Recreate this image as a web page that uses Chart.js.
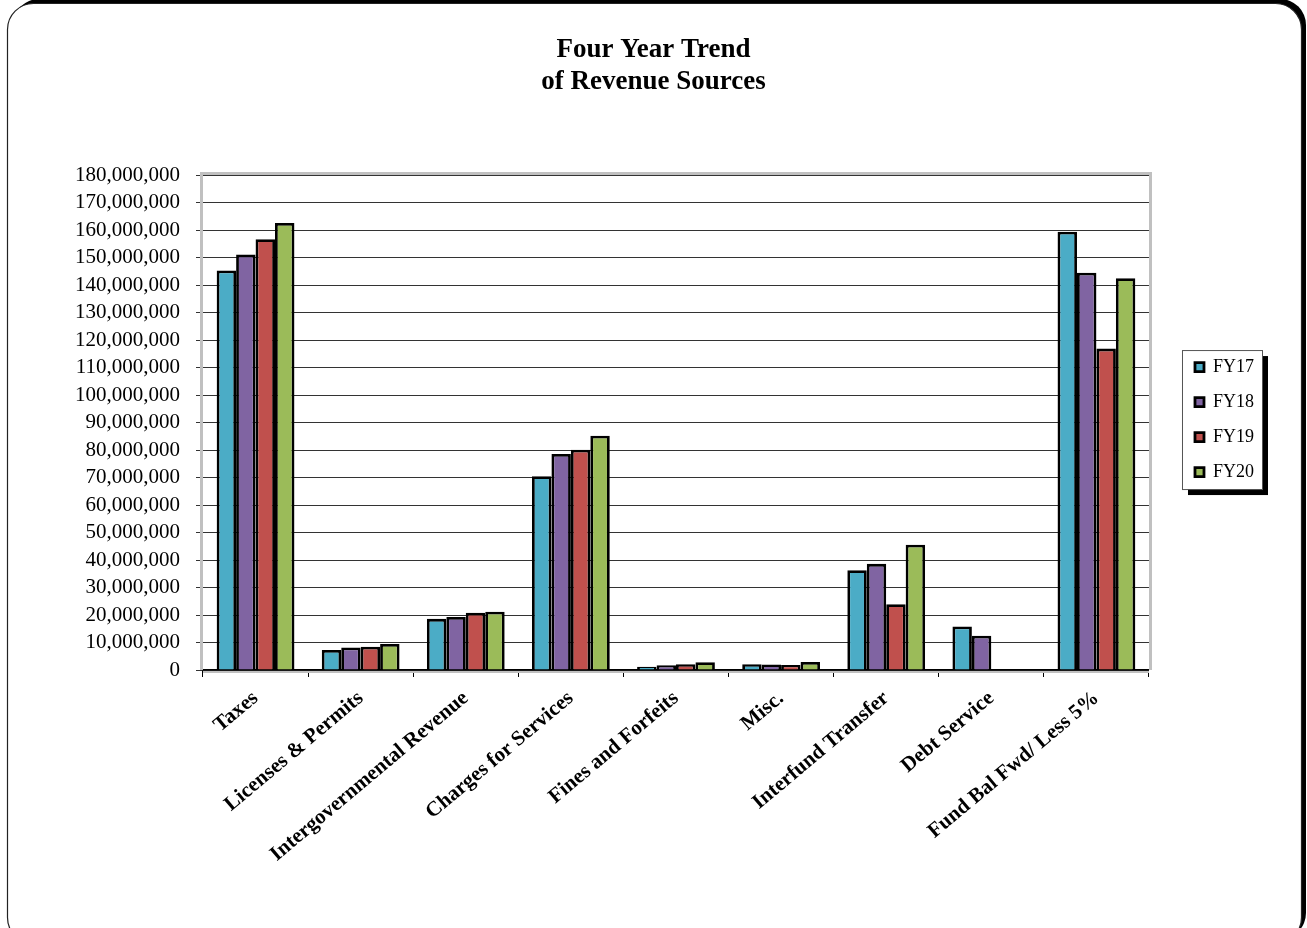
<!DOCTYPE html>
<html>
<head>
<meta charset="utf-8">
<script src="https://cdn.jsdelivr.net/npm/chart.js@4.4.1/dist/chart.umd.min.js"></script>
<style>
  body { margin: 0; background: #fff; }
  #myChart { display: block; }
</style>
</head>
<body>
<canvas id="myChart" width="1307" height="928"></canvas>
<script>
// categories and values
const categories = [
  'Taxes',
  'Licenses & Permits',
  'Intergovernmental Revenue',
  'Charges for Services',
  'Fines and Forfeits',
  'Misc.',
  'Interfund Transfer',
  'Debt Service',
  'Fund Bal Fwd/ Less 5%'
];
const seriesNames = ['FY17', 'FY18', 'FY19', 'FY20'];
const fy17 = [145300000, 7300000, 18600000, 70500000, 1200000, 2100000, 36300000, 15800000, 159400000];
const fy18 = [151100000, 8200000, 19300000, 78600000, 1700000, 2000000, 38600000, 12500000, 144500000];
const fy19 = [156700000, 8500000, 20800000, 80100000, 2100000, 1800000, 23900000, null, 116900000];
const fy20 = [162600000, 9500000, 21200000, 85200000, 2800000, 2900000, 45600000, null, 142500000];
const yMax = 180000000;
const yStep = 10000000;

const colors = ['#4BACC6', '#8064A2', '#C0504D', '#9BBB59'];
const serif = '"Liberation Serif", "Times New Roman", serif';

// rounded outer frame with the black shadow, plus legend box
const framePlugin = {
  id: 'frame',
  afterLayout(chart) {
    const lg = chart.legend;
    const dx = chart.chartArea.right + 29 - lg.left;
    lg.left += dx;
    lg.right += dx;
    lg.top -= 3;
    lg.bottom -= 3;
  },
  beforeDraw(chart) {
    const ctx = chart.ctx;
    ctx.save();
    ctx.fillStyle = '#fff';
    ctx.fillRect(0, 0, chart.width, chart.height);
    ctx.fillStyle = '#000';
    ctx.beginPath();
    ctx.roundRect(13, -1, 1293, 940, 26);
    ctx.fill();
    ctx.fillStyle = '#fff';
    ctx.strokeStyle = '#222';
    ctx.lineWidth = 1.2;
    ctx.beginPath();
    ctx.roundRect(7.5, 3.5, 1294, 940, 26);
    ctx.fill();
    ctx.stroke();

    // legend box
    const hb = chart.legend.legendHitBoxes;
    if (hb && hb.length) {
      const x0 = Math.min(...hb.map(h => h.left)) - 13;
      const y0 = Math.min(...hb.map(h => h.top)) - 8;
      const x1 = Math.max(...hb.map(h => h.left + h.width)) + 8;
      const y1 = Math.max(...hb.map(h => h.top + h.height)) + 8;
      ctx.fillStyle = '#000';
      ctx.fillRect(x0 + 6, y0 + 6, x1 - x0, y1 - y0);
      ctx.fillStyle = '#fff';
      ctx.fillRect(x0, y0, x1 - x0, y1 - y0);
      ctx.strokeStyle = '#555';
      ctx.lineWidth = 1;
      ctx.strokeRect(x0 + 0.5, y0 + 0.5, x1 - x0, y1 - y0);
    }
    ctx.restore();
  },
  beforeDatasetsDraw(chart) {
    // grey plot border
    const a = chart.chartArea;
    const ctx = chart.ctx;
    ctx.save();
    ctx.strokeStyle = '#c0c0c0';
    ctx.lineWidth = 3;
    ctx.beginPath();
    ctx.moveTo(a.left - 1.5, a.bottom);
    ctx.lineTo(a.left - 1.5, a.top - 1.5);
    ctx.lineTo(a.right + 1.5, a.top - 1.5);
    ctx.lineTo(a.right + 1.5, a.bottom);
    ctx.stroke();
    ctx.lineWidth = 2;
    ctx.beginPath();
    ctx.moveTo(a.left, a.bottom + 2);
    ctx.lineTo(a.right, a.bottom + 2);
    ctx.stroke();
    ctx.restore();
  }
};

const datasets = [fy17, fy18, fy19, fy20].map((vals, i) => ({
  label: seriesNames[i],
  data: vals,
  backgroundColor: colors[i],
  borderColor: '#000',
  borderWidth: 2.8,
  borderSkipped: 'start',
  barPercentage: 1.0,
  categoryPercentage: 0.74
}));

const config = {
  type: 'bar',
  data: { labels: categories, datasets },
  options: {
    responsive: false,
    animation: false,
    layout: { padding: 0 },
    plugins: {
      title: {
        display: true,
        text: ['Four Year Trend', 'of Revenue Sources'],
        color: '#000',
        font: { family: serif, size: 27, weight: 'bold', lineHeight: 1.15 },
        padding: { top: 35, bottom: 78 }
      },
      legend: {
        position: 'right',
        fullSize: false,
        labels: {
          color: '#000',
          font: { family: serif, size: 18 },
          boxWidth: 9,
          boxHeight: 9,
          padding: 17,
          useBorderRadius: false
        }
      },
      tooltip: { enabled: false }
    },
    scales: {
      x: {
        grid: {
          offset: true,
          drawOnChartArea: false,
          drawTicks: true,
          tickLength: 7,
          color: '#000'
        },
        border: { display: true, color: '#000', width: 1.5 },
        ticks: {
          color: '#000',
          font: { family: serif, size: 21, weight: 'bold' },
          minRotation: 40,
          maxRotation: 40,
          padding: 9,
          autoSkip: false
        },
        afterFit: (s) => { s.height = 928 - 670; }
      },
      y: {
        min: 0,
        max: yMax,
        ticks: {
          stepSize: yStep,
          autoSkip: false,
          color: '#000',
          font: { family: serif, size: 21 },
          padding: 16,
          callback: (v) => v.toLocaleString('en-US')
        },
        grid: {
          color: '#333',
          lineWidth: 1,
          tickLength: 7
        },
        border: { display: false },
        afterFit: (s) => { s.width = 203; }
      },
      // empty spacer so the plot ends where the reference does
      spacer: {
        type: 'linear',
        position: 'right',
        display: true,
        grid: { display: false },
        border: { display: false },
        ticks: { display: false },
        afterFit: (s) => { s.width = 72; }
      }
    }
  },
  plugins: [framePlugin]
};

var myChart = new Chart(document.getElementById('myChart'), config);
</script>
</body>
</html>
